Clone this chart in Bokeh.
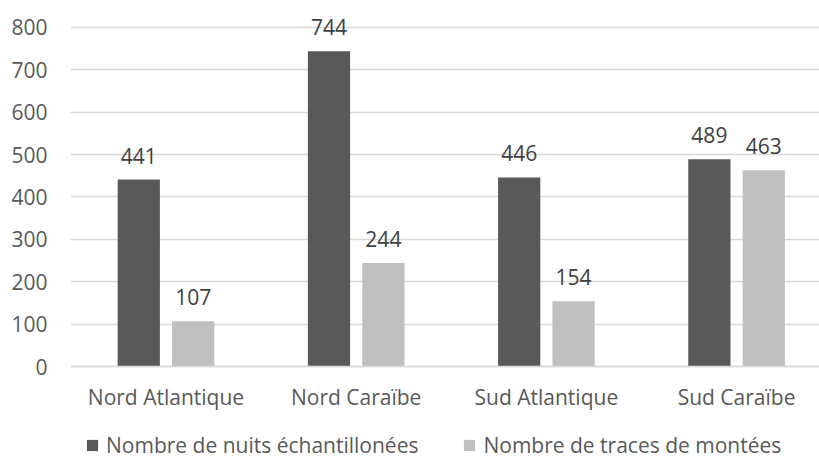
from bokeh.plotting import figure
from bokeh.models import Range1d, FixedTicker, Legend, LegendItem, ColumnDataSource
from bokeh.embed import file_html
from bokeh.resources import INLINE
from bokeh.core.properties import value

categories = ["Nord Atlantique", "Nord Caraïbe", "Sud Atlantique", "Sud Caraïbe"]
nuits = [441, 744, 446, 489]
traces = [107, 244, 154, 463]
series_names = ["Nombre de nuits échantillonées", "Nombre de traces de montées"]
y_ticks = [0, 100, 200, 300, 400, 500, 600, 700, 800]

FONT = "Open Sans"
FS = "21px"
DARK = "#595959"
LIGHT = "#BFBFBF"
TXT = "#595959"
GRID = "#D9D9D9"

idx = list(range(len(categories)))
off = 0.143
bw = 0.222

src = ColumnDataSource(dict(
    x1=[i - off for i in idx], x2=[i + off for i in idx],
    nuits=nuits, traces=traces,
    l1=[str(v) for v in nuits], l2=[str(v) for v in traces],
))

p = figure(width=819, height=459, output_backend="svg", toolbar_location=None,
           x_range=Range1d(-0.502, 3.436), y_range=Range1d(-219.4, 863.5),
           min_border_left=70, min_border_right=0, min_border_top=0, min_border_bottom=0)
p.outline_line_color = None
p.background_fill_color = "white"
p.border_fill_color = "white"

r1 = p.vbar(x="x1", top="nuits", width=bw, source=src, fill_color=DARK, line_color=None)
r2 = p.vbar(x="x2", top="traces", width=bw, source=src, fill_color=LIGHT, line_color=None)

for xc, yc, lc in (("x1", "nuits", "l1"), ("x2", "traces", "l2")):
    p.text(x=xc, y=yc, text=lc, source=src,
           text_align="center", text_baseline="alphabetic", y_offset=-24,
           text_font=value(FONT), text_font_size=FS, text_color="#404040")

# y axis
p.yaxis.ticker = FixedTicker(ticks=y_ticks)
p.yaxis.axis_line_color = None
p.yaxis.major_tick_line_color = None
p.yaxis.minor_tick_line_color = None
p.yaxis.major_tick_out = 0
p.yaxis.minor_tick_out = 0
p.yaxis.major_label_standoff = 23
p.yaxis.major_label_text_font = FONT
p.yaxis.major_label_text_font_size = FS
p.yaxis.major_label_text_color = TXT

# x axis fixed at y = 0
p.xaxis.fixed_location = 0
p.xaxis.ticker = FixedTicker(ticks=idx)
p.xaxis.major_label_overrides = {i: c for i, c in zip(idx, categories)}
p.xaxis.axis_line_color = GRID
p.xaxis.axis_line_width = 1.5
p.xaxis.major_tick_line_color = None
p.xaxis.minor_tick_line_color = None
p.xaxis.major_tick_out = 0
p.xaxis.minor_tick_out = 0
p.xaxis.major_label_standoff = 16
p.xaxis.major_label_text_font = FONT
p.xaxis.major_label_text_font_size = FS
p.xaxis.major_label_text_color = TXT

p.xgrid.grid_line_color = None
p.ygrid.grid_line_color = GRID
p.ygrid.grid_line_width = 1.5

legend = Legend(items=[LegendItem(label=series_names[0], renderers=[r1]),
                       LegendItem(label=series_names[1], renderers=[r2])],
                orientation="horizontal", location=(15, 0), margin=0, padding=0,
                spacing=44, glyph_width=14, glyph_height=14, label_standoff=7,
                label_text_font=FONT, label_text_font_size=FS, label_text_color=TXT,
                border_line_color=None, background_fill_alpha=0)
p.add_layout(legend, "center")

open("out.html", "w").write(file_html(p, INLINE))
